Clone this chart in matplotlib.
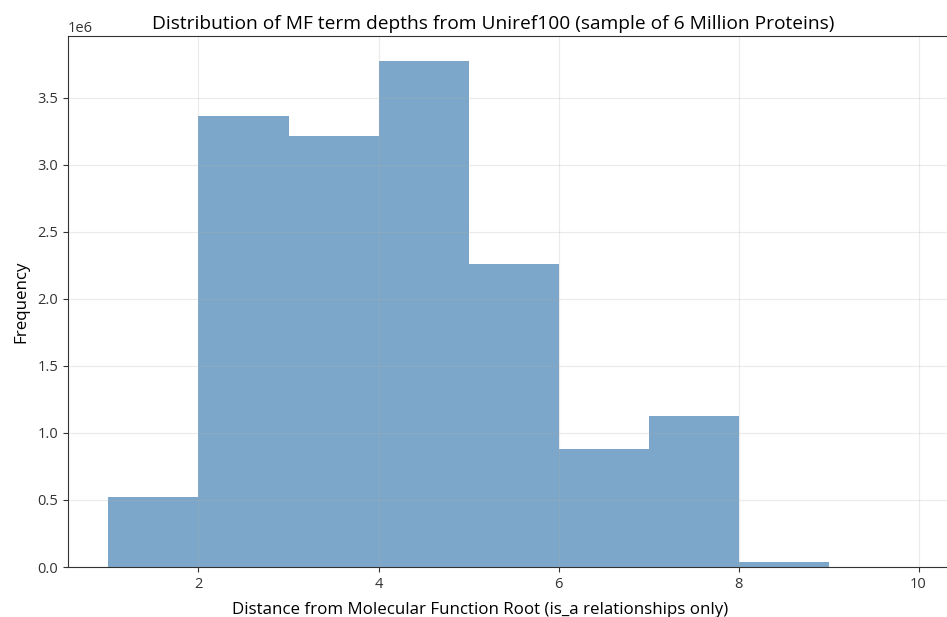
import numpy as np
import matplotlib
matplotlib.use("Agg")
import matplotlib.pyplot as plt

plt.rcParams['font.family'] = ['Open Sans', 'DejaVu Sans']

# depth bins (distance from MF root) and counts per bin
bin_edges = [1, 2, 3, 4, 5, 6, 7, 8, 9, 10]
counts = [0.523e6, 3.36e6, 3.21e6, 3.77e6, 2.26e6, 0.878e6, 1.127e6, 0.035e6, 0.0]

fig = plt.figure(figsize=(9.47, 6.17), dpi=100)
ax = fig.add_axes([0.0718, 0.081, 0.9409, 0.8606])

ax.hist(bin_edges[:-1], bins=bin_edges, weights=counts, color='steelblue', alpha=0.7)
ax.grid(alpha=0.25)
ax.set_xlabel("Distance from Molecular Function Root (is_a relationships only)", fontsize=12.2, labelpad=5)
ax.xaxis.set_label_coords(0.462, -0.065)
ax.set_ylabel("Frequency", fontsize=12.2, labelpad=6)
ax.set_title("Distribution of MF term depths from Uniref100 (sample of 6 Million Proteins)",
             fontsize=13.8, pad=5, x=0.477)
ax.tick_params(labelsize=10.5, colors='#333333')
ax.yaxis.get_offset_text().set_fontsize(10.5)
for s in ax.spines.values():
    s.set_color('#333333')

fig.savefig("out.png", dpi=100)
